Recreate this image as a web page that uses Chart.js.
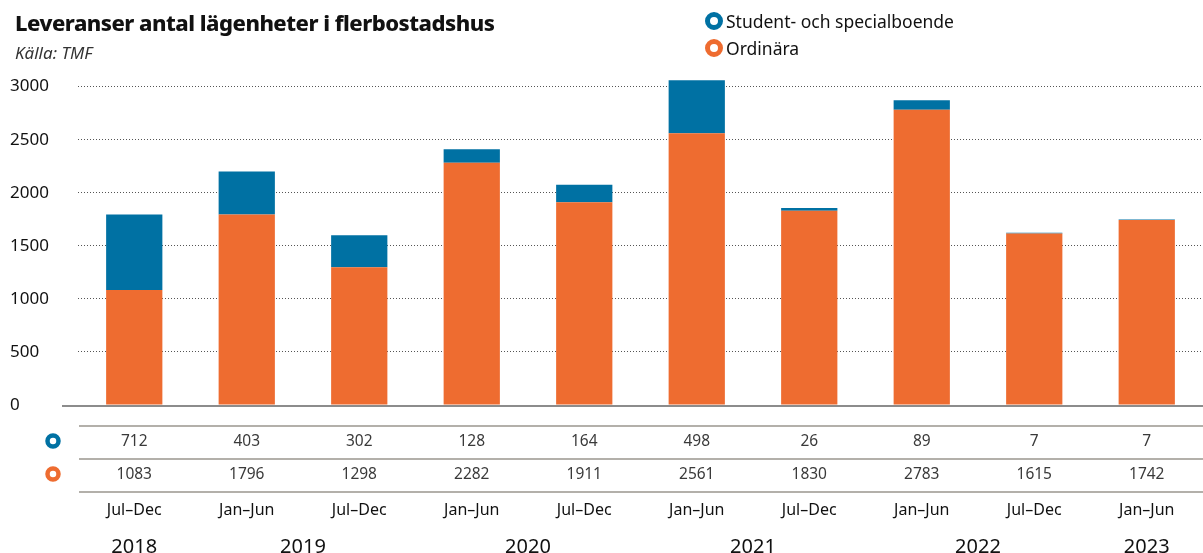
<!DOCTYPE html>
<html>
<head>
<meta charset="utf-8">
<script src="https://cdn.jsdelivr.net/npm/chart.js@4/dist/chart.umd.min.js"></script>
<style>
  body { margin: 0; background: #fff; font-family: "Noto Sans", "DejaVu Sans", sans-serif; }
  #wrap { position: relative; width: 1203px; height: 553px; }
  #title { position: absolute; left: 15px; top: 7px; font-size: 22px; font-weight: 800; color: #111; letter-spacing: -0.5px; }
  #source { position: absolute; left: 15px; top: 41px; font-size: 17px; font-style: italic; color: #333; }
  .leg { position: absolute; left: 705px; font-size: 17.5px; color: #111; display: flex; align-items: center; }
  .leg i { display: inline-block; width: 8px; height: 8px; border-radius: 50%; border: 5px solid; margin-right: 3px; box-sizing: content-box; }
</style>
</head>
<body>
<div id="wrap">
  <div id="title">Leveranser antal lägenheter i flerbostadshus</div>
  <div id="source">Källa: TMF</div>
  <div class="leg" style="top:9px"><i style="border-color:#0071a3"></i>Student- och specialboende</div>
  <div class="leg" style="top:36px"><i style="border-color:#ee6c30"></i>Ordinära</div>
  <canvas id="chart" width="1203" height="553"></canvas>
</div>
<script>
// data
let periods = ['Jul–Dec', 'Jan–Jun', 'Jul–Dec', 'Jan–Jun', 'Jul–Dec', 'Jan–Jun', 'Jul–Dec', 'Jan–Jun', 'Jul–Dec', 'Jan–Jun'];
let years = ['2018', '2019', '2019', '2020', '2020', '2021', '2021', '2022', '2022', '2023'];
let student = [712, 403, 302, 128, 164, 498, 26, 89, 7, 7];
let ordinara = [1083, 1796, 1298, 2282, 1911, 2561, 1830, 2783, 1615, 1742];
let yTicks = [0, 500, 1000, 1500, 2000, 2500, 3000];

const BLUE = '#0071a3';
const ORANGE = '#ee6c30';

// table under the chart: rows of values, period labels, years
const tablePlugin = {
    id: 'tablePlugin',
    afterDraw(chart) {
        let ctx = chart.ctx;
        let x = chart.scales.x;
        let area = chart.chartArea;
        ctx.save();
        // baseline
        ctx.strokeStyle = '#8c8c8c';
        ctx.lineWidth = 2;
        ctx.beginPath();
        ctx.moveTo(62, area.bottom + 1);
        ctx.lineTo(1203, area.bottom + 1);
        ctx.stroke();
        // table lines
        ctx.strokeStyle = '#b3b0aa';
        [426, 459, 492].forEach(y => {
            ctx.beginPath();
            ctx.moveTo(79, y);
            ctx.lineTo(1203, y);
            ctx.stroke();
        });
        // row markers
        [[441, BLUE], [474, ORANGE]].forEach(([y, c]) => {
            ctx.beginPath();
            ctx.strokeStyle = c;
            ctx.lineWidth = 4.5;
            ctx.arc(53, y, 5.5, 0, Math.PI * 2);
            ctx.stroke();
        });
        ctx.textAlign = 'center';
        ctx.textBaseline = 'middle';
        for (let i = 0; i < periods.length; i++) {
            let px = x.getPixelForValue(i);
            ctx.fillStyle = '#3a3a3a';
            ctx.font = '15.5px "Noto Sans", sans-serif';
            ctx.fillText(String(student[i]), px, 442);
            ctx.fillText(String(ordinara[i]), px, 475);
            ctx.fillStyle = '#111';
            ctx.font = '16px "Noto Sans", sans-serif';
            ctx.fillText(periods[i], px, 510);
        }
        // years centred over their periods
        ctx.font = '20px "Noto Sans", sans-serif';
        ctx.fillStyle = '#111';
        let seen = {};
        years.forEach((yr, i) => {
            (seen[yr] = seen[yr] || []).push(x.getPixelForValue(i));
        });
        Object.keys(seen).forEach(yr => {
            let p = seen[yr];
            let mid = (p[0] + p[p.length - 1]) / 2;
            ctx.fillText(yr, mid, 547);
        });
        ctx.restore();
    }
};

let chart = new Chart(document.getElementById('chart'), {
    type: 'bar',
    data: {
        labels: periods,
        datasets: [
            { label: 'Ordinära', data: ordinara, backgroundColor: ORANGE },
            { label: 'Student- och specialboende', data: student, backgroundColor: BLUE }
        ]
    },
    options: {
        responsive: false,
        animation: false,
        layout: { padding: { top: 76, bottom: 148, left: 10, right: 0 } },
        datasets: { bar: { barPercentage: 0.5, categoryPercentage: 1 } },
        plugins: { legend: { display: false }, tooltip: { enabled: false } },
        scales: {
            x: {
                stacked: true,
                display: false,
                offset: true
            },
            y: {
                stacked: true,
                min: 0,
                max: 3100,
                afterBuildTicks: (axis) => { axis.ticks = yTicks.map(v => ({ value: v })); },
                afterFit: (axis) => { axis.width = 68; },
                border: { display: false, dash: [1, 2] },
                grid: { color: '#555', lineWidth: 1, drawTicks: false },
                ticks: {
                    crossAlign: 'far',
                    padding: 0,
                    color: '#111',
                    font: { size: 17, family: '"Noto Sans", sans-serif' },
                    callback: (v) => String(v)
                }
            }
        }
    },
    plugins: [tablePlugin]
});
</script>
</body>
</html>
